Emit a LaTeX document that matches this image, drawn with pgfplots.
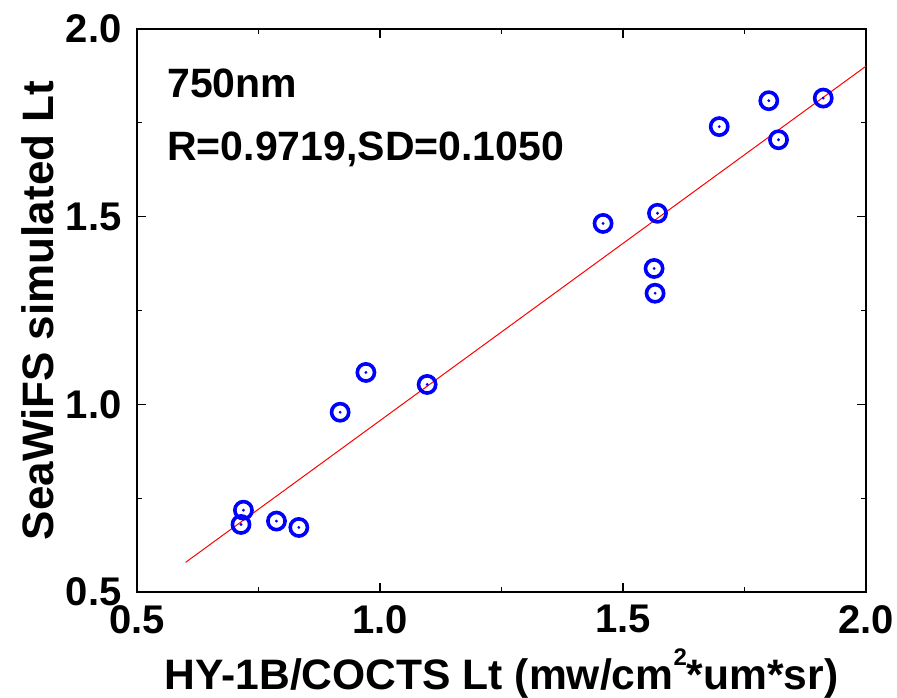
\documentclass[border=0pt]{standalone}
\usepackage{fontspec}
\setmainfont{Liberation Sans}
\usepackage{pgfplots}
\pgfplotsset{compat=1.18}
\begin{document}
\begin{tikzpicture}
\begin{axis}[
  scale only axis,
  width=364.5pt, height=281.5pt,
  xmin=0.5, xmax=2.0, ymin=0.5, ymax=2.0,
  xtick={0.5,1.0,1.5,2.0}, xticklabels={0.5,1.0,1.5,2.0},
  ytick={0.5,1.0,1.5,2.0}, yticklabels={0.5,1.0,1.5,2.0},
  minor tick num=1,
  tick align=inside,
  major tick length=4.5pt, minor tick length=2.5pt,
  axis line style={line width=0.75pt},
  every tick/.style={line width=0.6pt, black},
  tick label style={font=\fontsize{20}{24}\selectfont\bfseries, inner sep=0pt},
  xticklabel style={anchor=north, yshift=-6.5pt},
  yticklabel style={anchor=east, xshift=-7.5pt},
  xlabel={HY-1B/COCTS Lt (mw/cm\raisebox{0.55em}{\fontsize{12}{14}\selectfont 2}*um*sr)},
  ylabel={SeaWiFS simulated Lt},
  xlabel style={font=\fontsize{21.3}{26}\selectfont\bfseries, at={(axis description cs:0.5,-0.1723)}, anchor=base, inner sep=0pt},
  ylabel style={font=\fontsize{22}{26}\selectfont\bfseries, at={(axis description cs:-0.1358,0.5)}, anchor=center, inner sep=0pt},
  clip=false,
]
\path (axis cs:0.2181,0.2202) rectangle (axis cs:2.0638,2.0773);
\addplot[red, line width=0.5pt] coordinates {(0.6,0.579) (2.0,1.901)};
\addplot[only marks, mark=o, mark size=4.3pt, mark options={blue, line width=1.8pt}] coordinates {
(0.719,0.718) (0.714,0.680) (0.787,0.689) (0.833,0.672) (0.918,0.979)
(0.971,1.085) (1.097,1.053) (1.459,1.482) (1.571,1.509) (1.564,1.362)
(1.566,1.296) (1.698,1.740) (1.800,1.809) (1.820,1.705) (1.912,1.816)};
\addplot[only marks, mark=*, mark size=0.5pt, mark options={blue}] coordinates {
(0.719,0.718) (0.714,0.680) (0.787,0.689) (0.833,0.672) (0.918,0.979)
(0.971,1.085) (1.097,1.053) (1.459,1.482) (1.571,1.509) (1.564,1.362)
(1.566,1.296) (1.698,1.740) (1.800,1.809) (1.820,1.705) (1.912,1.816)};
\node[anchor=base west, inner sep=0pt, font=\fontsize{20.5}{24}\selectfont\bfseries] at (axis cs:0.5617,1.8165) {750nm};
\node[anchor=base west, inner sep=0pt, font=\fontsize{20.5}{24}\selectfont\bfseries] at (axis cs:0.5617,1.651) {R=0.9719,SD=0.1050};
\end{axis}
\end{tikzpicture}
\end{document}
